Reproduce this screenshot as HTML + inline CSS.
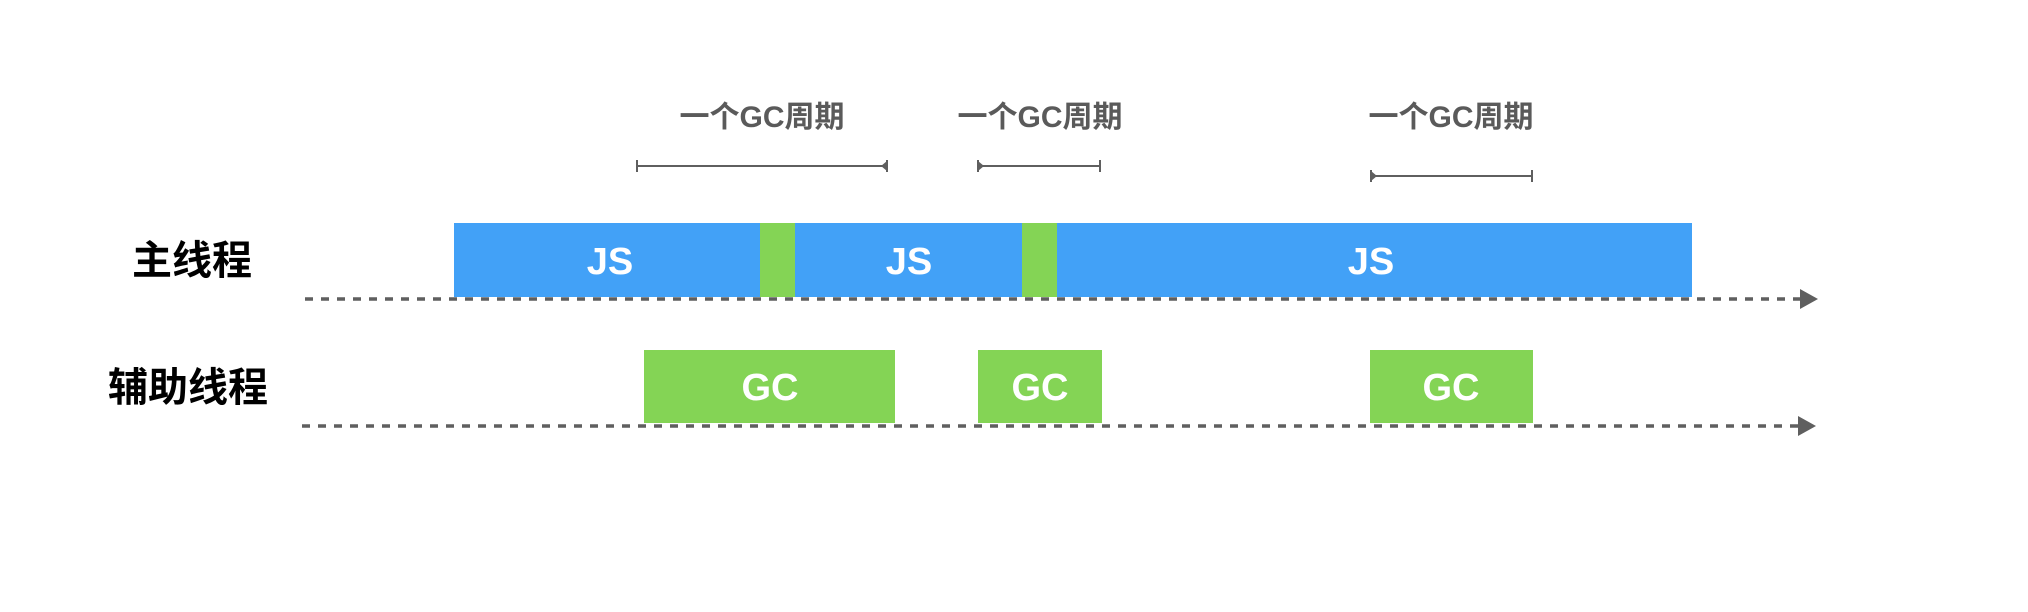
<!DOCTYPE html>
<html><head><meta charset="utf-8"><style>
html,body{margin:0;padding:0;background:#fff;width:2028px;height:612px;overflow:hidden}
svg text{font-family:"Liberation Sans","Noto Sans CJK SC",sans-serif;font-weight:bold}
</style></head><body>
<svg width="2028" height="612" viewBox="0 0 2028 612" xmlns="http://www.w3.org/2000/svg">
<rect width="2028" height="612" fill="#fff"/>
<!-- main thread bar -->
<rect x="454" y="223" width="1238" height="74" fill="#42A1F7"/>
<rect x="760" y="223" width="35" height="74" fill="#84D455"/>
<rect x="1022" y="223" width="35" height="74" fill="#84D455"/>
<!-- GC boxes -->
<rect x="644" y="350" width="251" height="73" fill="#84D455"/>
<rect x="978" y="350" width="124" height="73" fill="#84D455"/>
<rect x="1370" y="350" width="163" height="73" fill="#84D455"/>
<!-- dashed lines -->
<line x1="305" y1="299" x2="1802" y2="299" stroke="#5f5f5f" stroke-width="3.5" stroke-dasharray="8 8"/>
<polygon points="1800,289 1818,299 1800,309" fill="#5f5f5f"/>
<line x1="302" y1="426" x2="1800" y2="426" stroke="#5f5f5f" stroke-width="3.5" stroke-dasharray="8 8"/>
<polygon points="1798,416 1816,426 1798,436" fill="#5f5f5f"/>
<!-- bracket lines -->
<g stroke="#5f5f5f" stroke-width="2" fill="#5f5f5f">
<line x1="637" y1="166" x2="887" y2="166"/><line x1="637" y1="160" x2="637" y2="172"/><line x1="887" y1="160" x2="887" y2="172"/>
<polygon points="881,166 887,161 887,171" stroke="none"/>
<line x1="978" y1="166" x2="1100" y2="166"/><line x1="978" y1="160" x2="978" y2="172"/><line x1="1100" y1="160" x2="1100" y2="172"/>
<polygon points="984,166 978,161 978,171" stroke="none"/>
<line x1="1371" y1="176" x2="1532" y2="176"/><line x1="1371" y1="170" x2="1371" y2="182"/><line x1="1532" y1="170" x2="1532" y2="182"/>
<polygon points="1377,176 1371,171 1371,181" stroke="none"/>
</g>
<!-- top labels -->
<g fill="#5a5a5a" font-size="30" text-anchor="middle">
<text x="762" y="127">一个GC周期</text>
<text x="1040" y="127">一个GC周期</text>
<text x="1451" y="127">一个GC周期</text>
</g>
<!-- row labels -->
<g fill="#000" font-size="40">
<text x="132" y="274">主线程</text>
<text x="108" y="401">辅助线程</text>
</g>
<!-- bar labels -->
<g fill="#fff" font-size="38" text-anchor="middle">
<text x="610" y="274">JS</text>
<text x="909" y="274">JS</text>
<text x="1371" y="274">JS</text>
<text x="770" y="400">GC</text>
<text x="1040" y="400">GC</text>
<text x="1451" y="400">GC</text>
</g>
</svg>
</body></html>
